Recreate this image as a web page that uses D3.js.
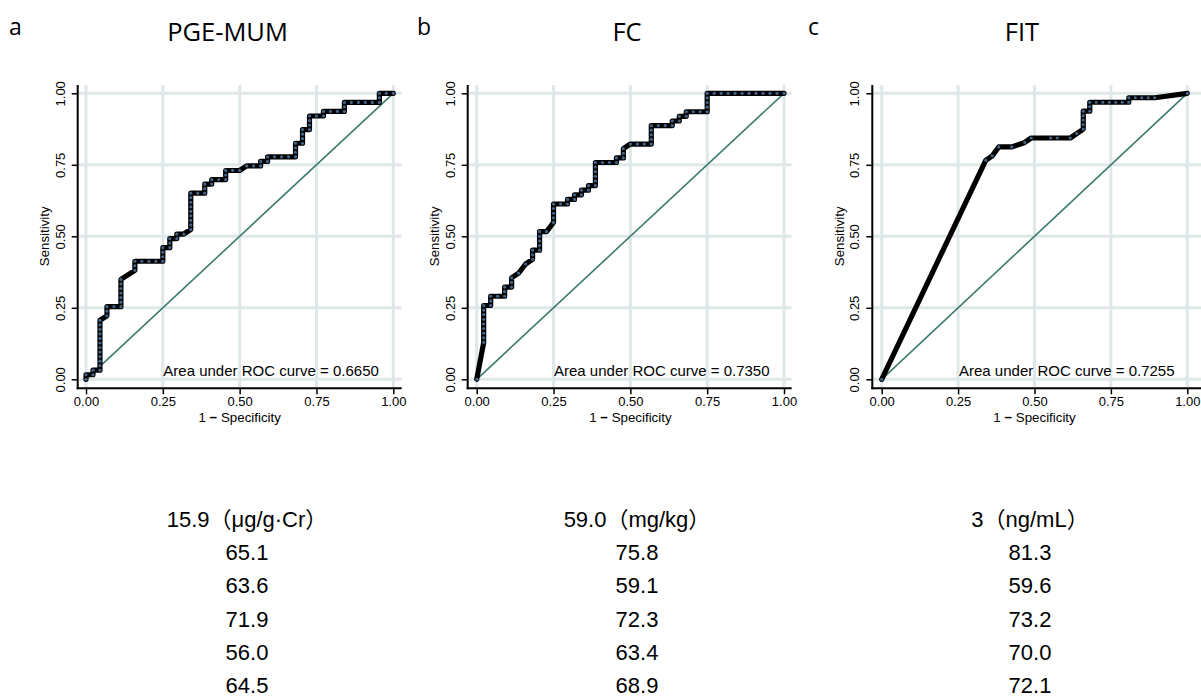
<!DOCTYPE html>
<html>
<head>
<meta charset="utf-8">
<script src="https://cdn.jsdelivr.net/npm/d3@7"></script>
<style>
  html, body { margin: 0; padding: 0; background: #fff; }
  svg { display: block; }
</style>
</head>
<body>
<svg id="chart" width="1201" height="699"></svg>
<script>
// ---- data ---------------------------------------------------------------
const panelLetters = ["a", "b", "c"];
const markerNames = ["PGE-MUM", "FC", "FIT"];
const aucValues = [0.6650, 0.7350, 0.7255];
const negativeCounts = [44, 44, 47];
const positiveCounts = [63, 62, 64];
const axisTicks = [0, 0.25, 0.5, 0.75, 1];

// ROC points as [false positives, true positives] counts
const rocPgeMum = [
  [0,0],[0,1],[1,1],[1,2],[2,2],[2,3],[2,4],[2,5],[2,6],[2,7],[2,8],[2,9],[2,10],[2,11],[2,12],[2,13],
  [3,14],[3,15],[3,16],[4,16],[5,16],[5,17],[5,18],[5,19],[5,20],[5,21],[5,22],
  [7,24],[7,25],[7,26],[8,26],[9,26],[10,26],[11,26],[11,27],[11,28],[11,29],
  [12,29],[12,30],[12,31],[13,31],[13,32],[14,32],[15,33],[15,34],[15,35],[15,36],[15,37],[15,38],[15,39],[15,40],[15,41],
  [16,41],[17,41],[17,42],[17,43],[18,43],[18,44],[19,44],[20,44],[20,45],[20,46],[21,46],[22,46],
  [23,47],[24,47],[25,47],[25,48],[26,48],[26,49],[27,49],[28,49],[29,49],[30,49],[30,50],[30,51],[30,52],
  [31,52],[31,53],[31,54],[31,55],[32,55],[32,56],[32,57],[32,58],[33,58],[34,58],[34,59],[35,59],[36,59],[37,59],
  [37,60],[37,61],[38,61],[39,61],[40,61],[41,61],[42,61],[42,62],[42,63],[43,63],[44,63]
];
const rocFc = [
  [0,0],[1,8],[1,9],[1,10],[1,11],[1,12],[1,13],[1,14],[1,15],[1,16],[2,16],[2,17],[2,18],[3,18],[4,18],[4,19],[4,20],
  [5,20],[5,21],[5,22],[6,23],[7,25],[8,26],[8,27],[8,28],[9,28],[9,29],[9,30],[9,31],[9,32],[10,32],
  [11,34],[11,35],[11,36],[11,37],[11,38],[12,38],[13,38],[13,39],[14,39],[14,40],[15,40],[15,41],[16,41],[16,42],
  [17,42],[17,43],[17,44],[17,45],[17,46],[17,47],[18,47],[19,47],[20,47],[20,48],[21,48],[21,49],[21,50],
  [22,51],[23,51],[24,51],[25,51],[25,52],[25,53],[25,54],[25,55],[26,55],[27,55],[28,55],[28,56],[29,56],[29,57],
  [30,57],[30,58],[31,58],[32,58],[33,58],[33,59],[33,60],[33,61],[33,62],
  [34,62],[35,62],[36,62],[37,62],[38,62],[39,62],[40,62],[41,62],[42,62],[43,62],[44,62]
];
const rocFit = [
  [0,0],[16,49],[17,50],[18,52],[20,52],[22,53],[23,54],[26,54],[27,54],[29,54],[30,55],
  [31,56],[31,57],[31,58],[31,59],[31,60],[32,60],[32,61],[32,62],
  [33,62],[34,62],[35,62],[36,62],[37,62],[38,62],[38,63],[39,63],[40,63],[41,63],[42,63],[47,64]
];
const rocSeries = [rocPgeMum, rocFc, rocFit];

// diagnostic performance table (%)
const cutoffLabels = ["15.9（μg/g·Cr）", "59.0（mg/kg）", "3（ng/mL）"];
const sensitivity = [65.1, 75.8, 81.3];
const specificity = [63.6, 59.1, 59.6];
const ppv = [71.9, 72.3, 73.2];
const npv = [56.0, 63.4, 70.0];
const accuracy = [64.5, 68.9, 72.1];

// ---- layout -------------------------------------------------------------
const svg = d3.select("#chart");
svg.append("rect").attr("width", 1201).attr("height", 699).attr("fill", "#fff");

const panels = [
  { axisX: 77.7,  x0: 86,    x1: 393.3,  gridRight: 401.7, letterX: 9,   titleX: 227.5, colX: 247 },
  { axisX: 467.7, x0: 476.7, x1: 784,    gridRight: 791.7, letterX: 417, titleX: 627,   colX: 637 },
  { axisX: 872.3, x0: 881.7, x1: 1187.3, gridRight: 1201,  letterX: 808, titleX: 1022,  colX: 1030 }
];
const plotTop = 93.3, plotBottom = 379.3, gridTop = 85, axisY = 388.3;
const gridColor = "#dfe8e8";
const tickFont = "'Liberation Sans', Arial, sans-serif";
const fmt = d3.format(".2f");

panels.forEach((p, i) => {
  const x = d3.scaleLinear().domain([0, 1]).range([p.x0, p.x1]);
  const y = d3.scaleLinear().domain([0, 1]).range([plotBottom, plotTop]);
  const g = svg.append("g");

  // grid
  g.append("g").selectAll("line.h").data(axisTicks).join("line")
    .attr("x1", p.axisX).attr("x2", p.gridRight)
    .attr("y1", d => y(d)).attr("y2", d => y(d))
    .attr("stroke", gridColor).attr("stroke-width", 3);
  g.append("g").selectAll("line.v").data(axisTicks).join("line")
    .attr("x1", d => x(d)).attr("x2", d => x(d))
    .attr("y1", gridTop).attr("y2", axisY)
    .attr("stroke", gridColor).attr("stroke-width", 3);

  // reference diagonal
  g.append("line")
    .attr("x1", x(0)).attr("y1", y(0)).attr("x2", x(1)).attr("y2", y(1))
    .attr("stroke", "#3f7a6e").attr("stroke-width", 1.6);

  // ROC curve
  const pts = rocSeries[i].map(([fp, tp]) => [fp / negativeCounts[i], tp / positiveCounts[i]]);
  const line = d3.line().x(d => x(d[0])).y(d => y(d[1]));
  g.append("path").datum(pts).attr("d", line)
    .attr("fill", "none").attr("stroke", "#000").attr("stroke-width", 5.2)
    .attr("stroke-linejoin", "round").attr("stroke-linecap", "round");
  g.append("g").selectAll("circle").data(pts).join("circle")
    .attr("cx", d => x(d[0])).attr("cy", d => y(d[1])).attr("r", 1.6)
    .attr("fill", "#41658b");

  // axes
  const yAxis = g.append("g").attr("transform", `translate(${p.axisX},0)`)
    .call(d3.axisLeft(y).tickValues(axisTicks).tickSize(6).tickFormat(fmt));
  yAxis.select(".domain").remove();
  yAxis.selectAll(".tick line").attr("stroke", "#000").attr("stroke-width", 1.5);
  yAxis.selectAll(".tick text")
    .attr("transform", "rotate(-90)").attr("x", 0).attr("y", -13).attr("dy", 0)
    .attr("text-anchor", "middle").attr("fill", "#000")
    .style("font-family", tickFont).style("font-size", "13px");

  const xAxis = g.append("g").attr("transform", `translate(0,${axisY})`)
    .call(d3.axisBottom(x).tickValues(axisTicks).tickSize(6).tickFormat(fmt));
  xAxis.select(".domain").remove();
  xAxis.selectAll(".tick line").attr("stroke", "#000").attr("stroke-width", 1.5);
  xAxis.selectAll(".tick text")
    .attr("y", 18.2).attr("dy", 0).attr("fill", "#000")
    .style("font-family", tickFont).style("font-size", "13px");

  g.append("line").attr("x1", p.axisX).attr("x2", p.axisX).attr("y1", gridTop).attr("y2", axisY + 1)
    .attr("stroke", "#000").attr("stroke-width", 2);
  g.append("line").attr("x1", p.axisX - 1).attr("x2", p.gridRight).attr("y1", axisY).attr("y2", axisY)
    .attr("stroke", "#000").attr("stroke-width", 2);

  // axis titles
  const xt = g.append("text").attr("x", (p.x0 + p.x1) / 2).attr("y", 421.7)
    .attr("text-anchor", "middle").style("font-family", tickFont).style("font-size", "13.3px");
  xt.append("tspan").text("1 ");
  xt.append("tspan").style("font-weight", "700").text("−");
  xt.append("tspan").text(" Specificity");
  g.append("text").attr("transform", `translate(${p.axisX - 28.4},${(plotTop + plotBottom) / 2}) rotate(-90)`)
    .attr("text-anchor", "middle").style("font-family", tickFont).style("font-size", "13.3px")
    .text("Sensitivity");

  // AUC annotation
  g.append("text").attr("x", p.x0 + 77.3).attr("y", 376)
    .style("font-family", tickFont).style("font-size", "15px")
    .text(`Area under ROC curve = ${aucValues[i].toFixed(4)}`);

  // panel letter and title
  svg.append("text").attr("x", p.letterX).attr("y", 35)
    .style("font-family", "'Open Sans', 'Noto Sans', sans-serif").style("font-size", "23px")
    .text(panelLetters[i]);
  svg.append("text").attr("x", p.titleX).attr("y", 40.7).attr("text-anchor", "middle")
    .style("font-family", "'Open Sans', 'Noto Sans', sans-serif").style("font-size", "25.5px")
    .text(markerNames[i]);

  // performance table column
  const rows = [cutoffLabels[i], sensitivity[i].toFixed(1), specificity[i].toFixed(1),
                ppv[i].toFixed(1), npv[i].toFixed(1), accuracy[i].toFixed(1)];
  svg.append("g").selectAll("text").data(rows).join("text")
    .attr("x", p.colX).attr("y", (d, k) => 527 + k * 33.2)
    .attr("text-anchor", "middle")
    .style("font-family", "'Liberation Sans', 'Noto Sans CJK JP', sans-serif").style("font-size", "22px")
    .text(d => d);
});
</script>
</body>
</html>
